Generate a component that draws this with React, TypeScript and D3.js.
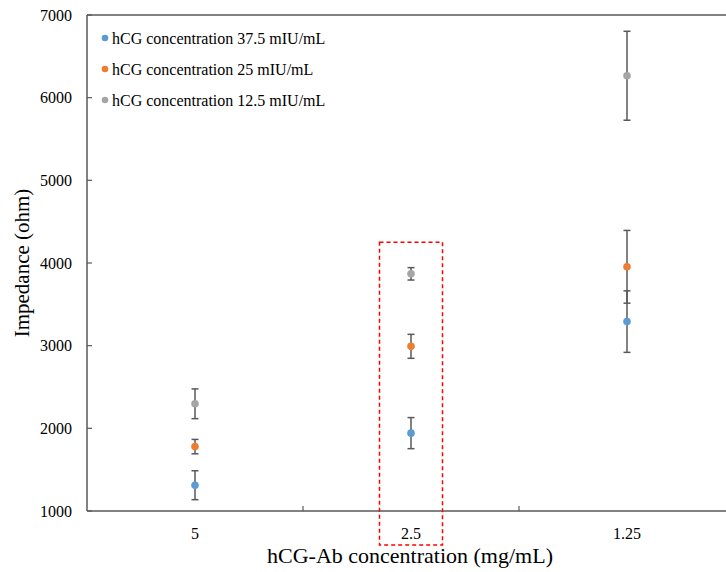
import * as d3 from "d3";

const categories = ["5", "2.5", "1.25"];
const seriesNames = [
  "hCG concentration 37.5 mIU/mL",
  "hCG concentration 25 mIU/mL",
  "hCG concentration 12.5 mIU/mL",
];
const colors = ["#5B9BD5", "#ED7D31", "#A5A5A5"];
// mean impedance (ohm) per category, one array per series
const conc375 = [1312, 1942, 3291];
const conc25 = [1779, 2992, 3954];
const conc125 = [2297, 3869, 6265];
// error (+/-) per category
const err375 = [175, 188, 372];
const err25 = [87, 145, 440];
const err125 = [180, 75, 538];
const yTicks = [1000, 2000, 3000, 4000, 5000, 6000, 7000];

const values = [conc375, conc25, conc125];
const errors = [err375, err25, err125];

const W = 726;
const H = 572;
const font = "'Liberation Serif', 'Times New Roman', serif";

export default function App() {
  const left = 87;
  const bottom = 511;
  const top = 15;

  const x = d3.scaleBand().domain(categories).range([left, 735]);
  const y = d3.scaleLinear().domain([1000, 7000]).range([bottom, top]);
  const cx = (c: string) => (x(c) ?? 0) + x.bandwidth() / 2;

  const hl = cx("2.5");

  return (
    <svg
      width={W}
      height={H}
      style={{ position: "absolute", left: 0, top: 0, background: "#fff" }}
      fontFamily={font}
    >
      {/* frame */}
      <line x1={left} x2={W} y1={top} y2={top} stroke="#595959" strokeWidth={1.5} />
      <line x1={left} x2={left} y1={top} y2={bottom} stroke="#595959" strokeWidth={1.5} />
      <line x1={left} x2={W} y1={bottom} y2={bottom} stroke="#595959" strokeWidth={1.5} />

      {/* y ticks */}
      {yTicks.map((t) => (
        <g key={`yt-${t}`}>
          <line x1={left} x2={left + 5} y1={y(t)} y2={y(t)} stroke="#595959" strokeWidth={1.2} />
          <text x={72} y={y(t)} dy="0.35em" textAnchor="end" fontSize={16} fill="#000">
            {t}
          </text>
        </g>
      ))}

      {/* x ticks between categories */}
      {categories.slice(1).map((c) => (
        <line
          key={`xt-${c}`}
          x1={x(c)}
          x2={x(c)}
          y1={bottom}
          y2={bottom - 5}
          stroke="#595959"
          strokeWidth={1.2}
        />
      ))}
      {categories.map((c) => (
        <text key={`xl-${c}`} x={cx(c)} y={539} textAnchor="middle" fontSize={16} fill="#000">
          {c}
        </text>
      ))}

      {/* titles */}
      <text x={410} y={563} textAnchor="middle" fontSize={22} fill="#000">
        hCG-Ab concentration (mg/mL)
      </text>
      <text
        transform={`translate(29,${263}) rotate(-90)`}
        textAnchor="middle"
        fontSize={21}
        fill="#000"
      >
        Impedance (ohm)
      </text>

      {/* highlight box */}
      <rect
        x={hl - 31.5}
        y={y(4250)}
        width={63}
        height={545 - y(4250)}
        fill="none"
        stroke="#FF0000"
        strokeWidth={1.5}
        strokeDasharray="4,3"
      />

      {/* error bars + points */}
      {values.map((vals, si) => (
        <g key={`s-${si}`}>
          {categories.map((c, i) => {
            const px = cx(c);
            const hi = y(vals[i] + errors[si][i]);
            const lo = y(vals[i] - errors[si][i]);
            return (
              <g key={`p-${si}-${i}`}>
                <line x1={px} x2={px} y1={hi} y2={lo} stroke="#595959" strokeWidth={1.5} />
                <line x1={px - 3.5} x2={px + 3.5} y1={hi} y2={hi} stroke="#595959" strokeWidth={1.5} />
                <line x1={px - 3.5} x2={px + 3.5} y1={lo} y2={lo} stroke="#595959" strokeWidth={1.5} />
                <circle cx={px} cy={y(vals[i])} r={3.8} fill={colors[si]} />
              </g>
            );
          })}
        </g>
      ))}

      {/* legend */}
      {seriesNames.map((n, i) => (
        <g key={`lg-${i}`} transform={`translate(105,${38 + i * 31})`}>
          <circle cx={0} cy={0} r={3.3} fill={colors[i]} />
          <text x={7} y={0} dy="0.35em" fontSize={16} fill="#000">
            {n}
          </text>
        </g>
      ))}
    </svg>
  );
}
